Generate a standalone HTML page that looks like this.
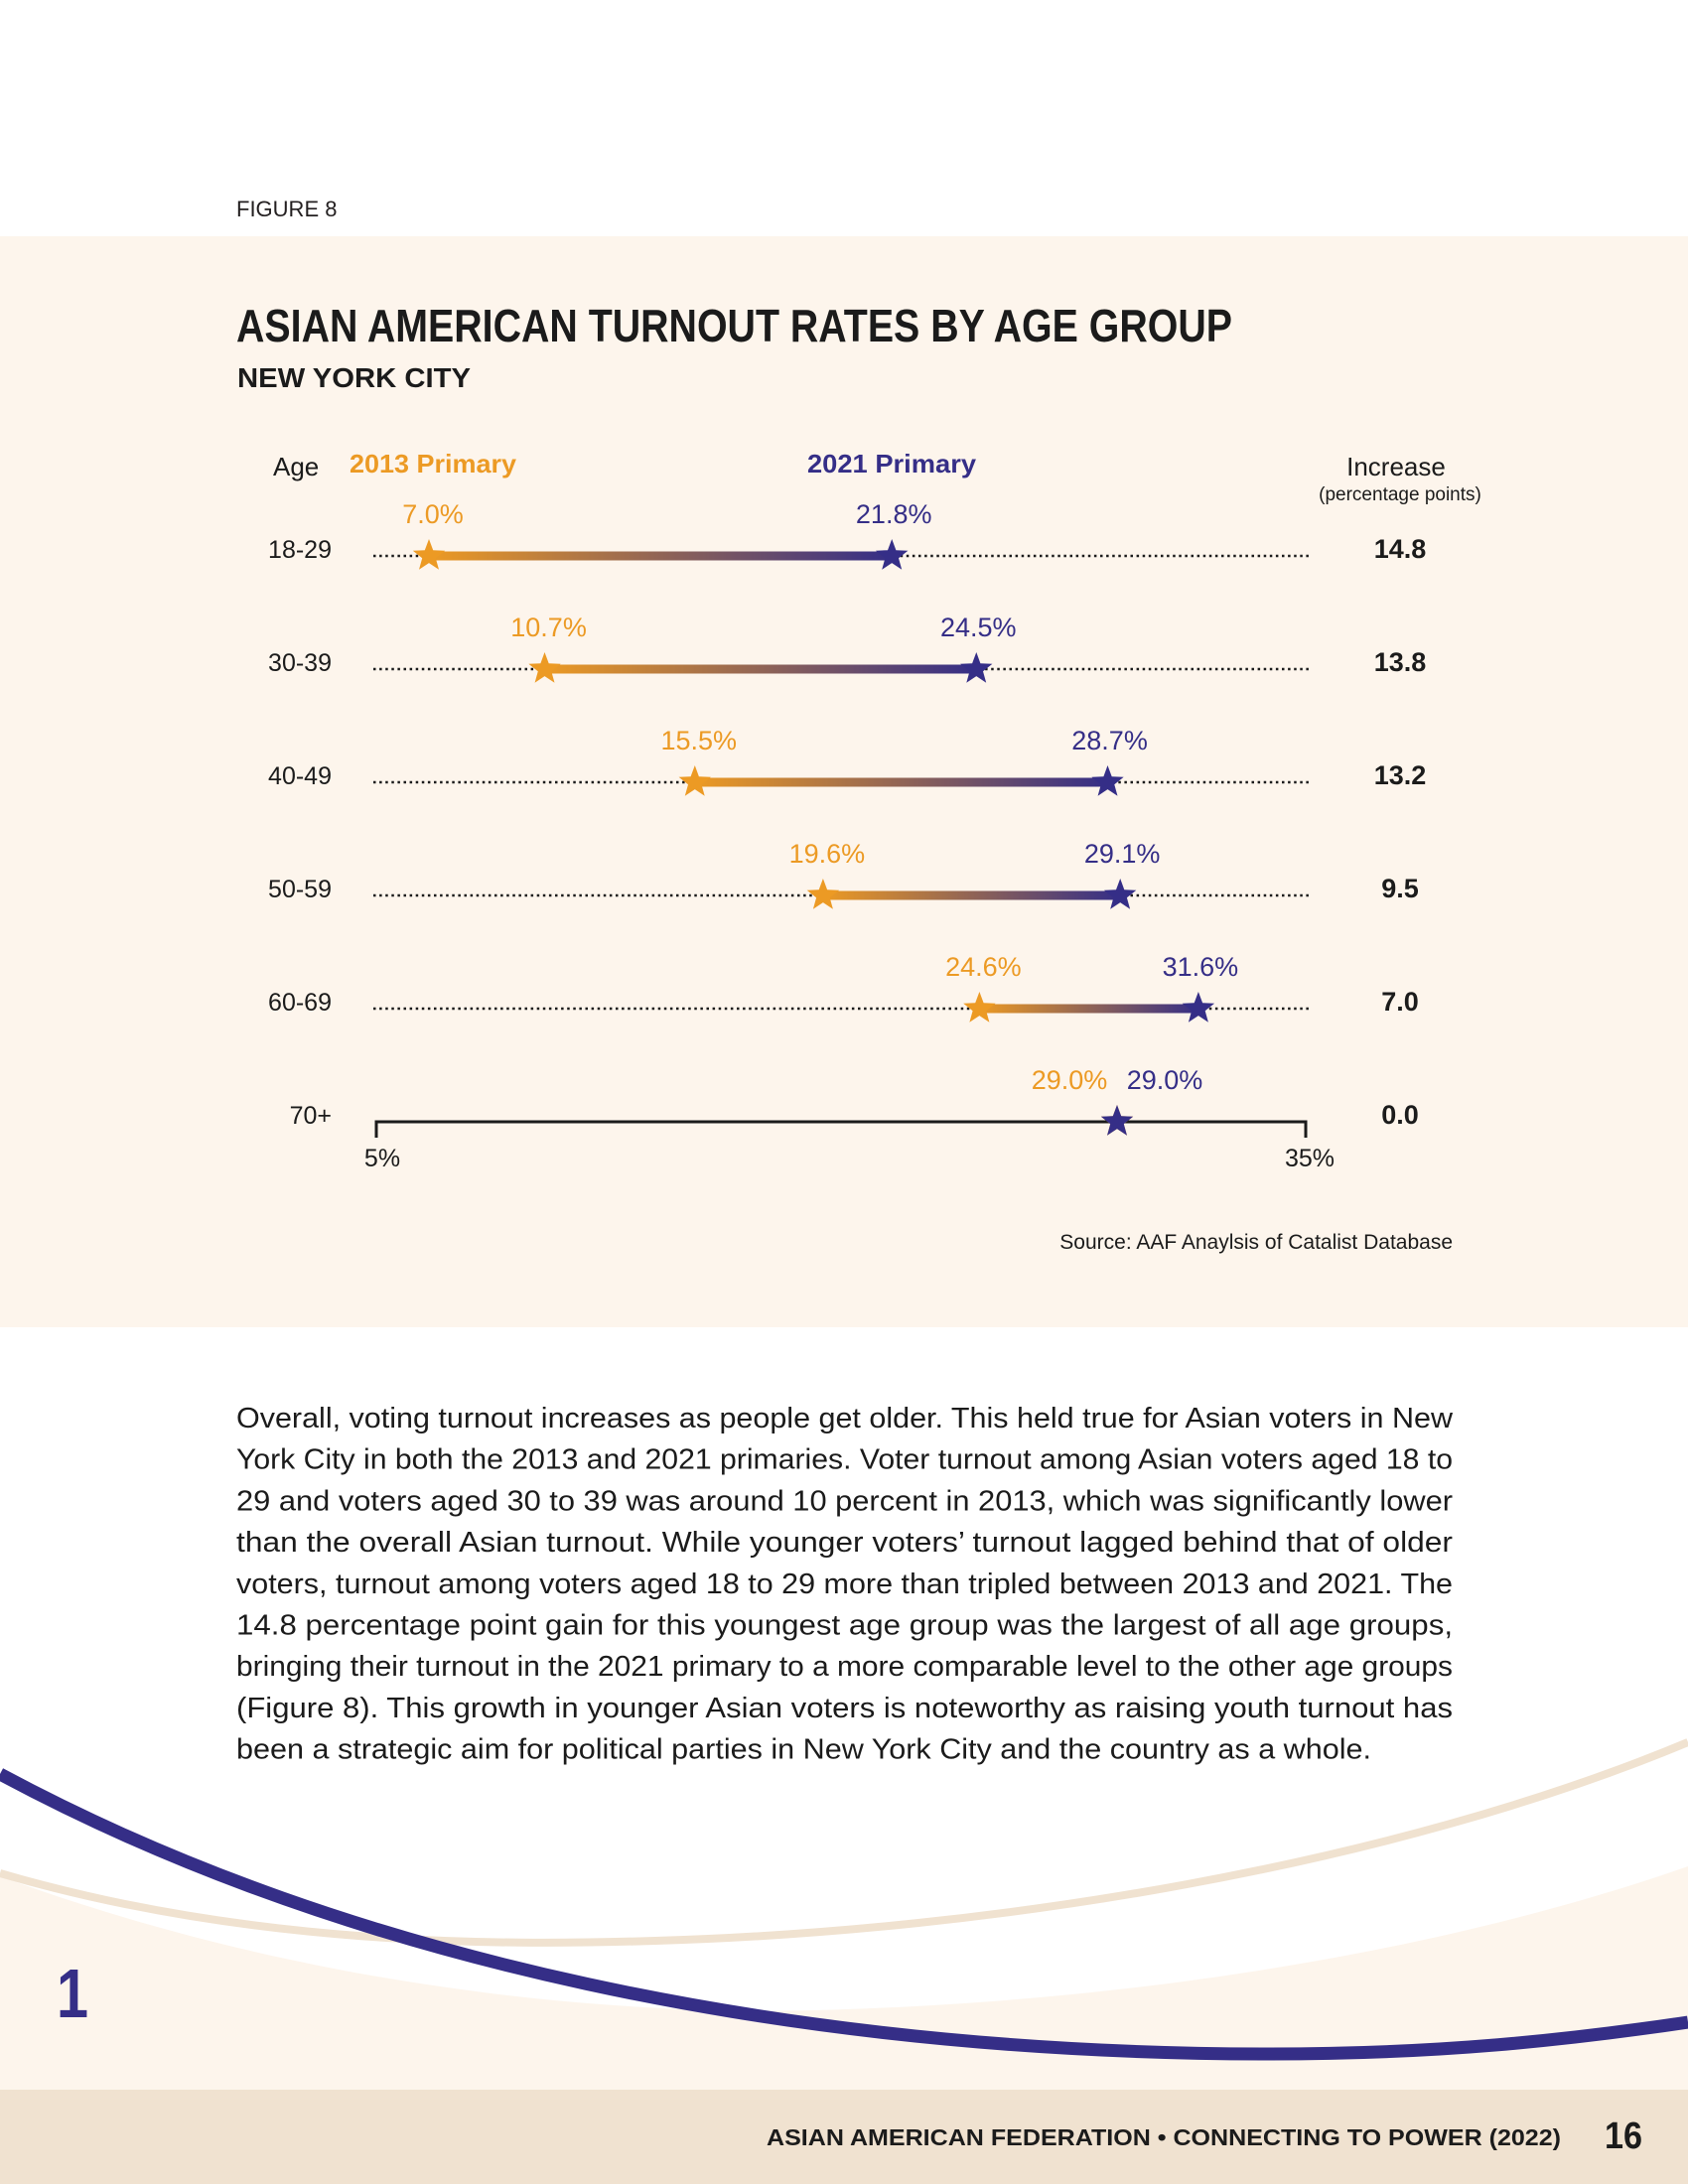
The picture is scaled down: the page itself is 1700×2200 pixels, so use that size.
<!DOCTYPE html>
<html><head><meta charset="utf-8">
<style>
html,body{margin:0;padding:0;background:#fff;}
svg{display:block;}
text{font-family:"Liberation Sans",sans-serif;}
</style></head>
<body>
<svg id="page" width="1700" height="2200" viewBox="0 0 1700 2200" xmlns="http://www.w3.org/2000/svg">
  <defs>
    <linearGradient id="connGrad" x1="0" y1="0" x2="1" y2="0">
      <stop offset="0" stop-color="#ec9a24"/>
      <stop offset="1" stop-color="#352e87"/>
    </linearGradient>
  </defs>
  <rect x="0" y="0" width="1700" height="2200" fill="#ffffff"/>
  <text x="238" y="218" font-size="22" fill="#231f20">FIGURE 8</text>
  <rect x="0" y="238" width="1700" height="1099" fill="#fdf5ec"/>
  <text x="238" y="344" font-size="46" font-weight="bold" fill="#1b1b1b" textLength="1003" lengthAdjust="spacingAndGlyphs">ASIAN AMERICAN TURNOUT RATES BY AGE GROUP</text>
  <text x="239" y="390" font-size="28" font-weight="bold" fill="#1b1b1b" textLength="235" lengthAdjust="spacingAndGlyphs">NEW YORK CITY</text>
  <text x="275" y="479" font-size="26" fill="#1b1b1b">Age</text>
  <text x="352" y="476" font-size="26" font-weight="bold" fill="#ec9a24" textLength="168" lengthAdjust="spacingAndGlyphs">2013 Primary</text>
  <text x="813" y="476" font-size="26" font-weight="bold" fill="#352e87" textLength="170" lengthAdjust="spacingAndGlyphs">2021 Primary</text>
  <text x="1406" y="479" font-size="26" fill="#1b1b1b" text-anchor="middle">Increase</text>
  <text x="1410" y="504" font-size="19" fill="#1b1b1b" text-anchor="middle">(percentage points)</text>
  <g id="chart"></g>
  <text x="1463" y="1258" font-size="21" fill="#1b1b1b" text-anchor="end">Source: AAF Anaylsis of Catalist Database</text>
  <g id="body" font-size="29" fill="#1b1b1b"></g>
  <path d="M0,1890 C300,2000 600,2030 820,2025 C1200,2015 1500,1950 1700,1880 L1700,2105 L0,2105 Z" fill="#fdf5ec"/>
  <path d="M0,1887 C250,1960 500,1960 660,1955 C1000,1945 1400,1880 1700,1755" fill="none" stroke="#f0e2d0" stroke-width="8"/>
  <path d="M0,1787 C350,1975 800,2069 1280,2069 C1450,2069 1580,2055 1700,2037" fill="none" stroke="#352e87" stroke-width="13"/>
  <text x="57" y="2032" font-size="70" font-weight="bold" fill="#352e87" textLength="32" lengthAdjust="spacingAndGlyphs">1</text>
  <rect x="0" y="2105" width="1700" height="95" fill="#f0e2d0"/>
  <text x="1572" y="2161" font-size="23" font-weight="bold" fill="#1b1b1b" text-anchor="end" textLength="800" lengthAdjust="spacingAndGlyphs">ASIAN AMERICAN FEDERATION  •  CONNECTING TO POWER (2022)</text>
  <text x="1616" y="2164" font-size="38" font-weight="bold" fill="#1b1b1b" textLength="38" lengthAdjust="spacingAndGlyphs">16</text>
</svg>
<script>
const categories = ["18-29","30-39","40-49","50-59","60-69","70+"];
const turnout2013 = [7.0,10.7,15.5,19.6,24.6,29.0];
const turnout2021 = [21.8,24.5,28.7,29.1,31.6,29.0];
const increases = ["14.8","13.8","13.2","9.5","7.0","0.0"];
const axisTicks = [5,35];

const NS = "http://www.w3.org/2000/svg";
const X0 = 369, X1 = 1314;
function xScale(v){ return X0 + (v - axisTicks[0]) / (axisTicks[1] - axisTicks[0]) * (X1 - X0); }
function yScale(i){ return 560 + i * 114; }
const chart = document.getElementById("chart");
function mk(tag, attrs, parent){
  const el = document.createElementNS(NS, tag);
  for (const k in attrs) el.setAttribute(k, attrs[k]);
  (parent || chart).appendChild(el);
  return el;
}
function starPath(cx, cy, r){
  let d = "";
  for (let k = 0; k < 10; k++){
    const a = -Math.PI/2 + k * Math.PI/5;
    const rr = k % 2 ? r * 0.42 : r;
    d += (k ? "L" : "M") + (cx + rr*Math.cos(a)).toFixed(1) + "," + (cy + rr*Math.sin(a)).toFixed(1);
  }
  return d + "Z";
}
const last = categories.length - 1;
categories.forEach((c, i) => {
  const y = yScale(i);
  const xa = xScale(turnout2013[i]), xb = xScale(turnout2021[i]);
  const lab = mk("text", {x: 334, y: y + 2, "font-size": 25, fill: "#1b1b1b", "text-anchor": "end"});
  lab.textContent = c;
  
  
  if (i === last){
    const ax = mk("path", {d: `M${X0+10},${y+16} V${y} H${X1+1} V${y+16}`, fill: "none", stroke: "#1b1b1b", "stroke-width": 3});
    
    
    axisTicks.forEach((t, k) => {
      const tl = mk("text", {x: xScale(t) + (k ? 5 : 16), y: y + 45, "font-size": 25, fill: "#1b1b1b", "text-anchor": "middle"});
      tl.textContent = t + "%";
      
      
    });
  } else {
    const dl = mk("line", {x1: 376, y1: y, x2: 1319, y2: y, stroke: "#1b1b1b", "stroke-width": 2.5, "stroke-dasharray": "2.5 3.6"});
    
    
  }
  if (xb - xa > 1){
    const g = mk("rect", {x: xa, y: y - 4.5, width: xb - xa, height: 9, fill: "url(#connGrad)"});
    
    
  }
  const sa = mk("path", {d: starPath(xa, y, 17), fill: "#ec9a24"});
  
  
  const sb = mk("path", {d: starPath(xb, y, 17), fill: "#352e87"});
  
  
  const same = Math.abs(xb - xa) < 60;
  const la = mk("text", {x: same ? xa - 48 : xa + 4, y: y - 33, "font-size": 27, fill: "#ec9a24", "text-anchor": "middle"});
  la.textContent = turnout2013[i].toFixed(1) + "%";
  
  
  const lb = mk("text", {x: same ? xb + 48 : xb + 2, y: y - 33, "font-size": 27, fill: "#352e87", "text-anchor": "middle"});
  lb.textContent = turnout2021[i].toFixed(1) + "%";
  
  
  const inc = mk("text", {x: 1410, y: y + 2, "font-size": 27, "font-weight": "bold", fill: "#1b1b1b", "text-anchor": "middle"});
  inc.textContent = increases[i];
  
  
});

const bodyLines = [
"Overall, voting turnout increases as people get older. This held true for Asian voters in New",
"York City in both the 2013 and 2021 primaries. Voter turnout among Asian voters aged 18 to",
"29 and voters aged 30 to 39 was around 10 percent in 2013, which was significantly lower",
"than the overall Asian turnout. While younger voters’ turnout lagged behind that of older",
"voters, turnout among voters aged 18 to 29 more than tripled between 2013 and 2021. The",
"14.8 percentage point gain for this youngest age group was the largest of all age groups,",
"bringing their turnout in the 2021 primary to a more comparable level to the other age groups",
"(Figure 8). This growth in younger Asian voters is noteworthy as raising youth turnout has",
"been a strategic aim for political parties in New York City and the country as a whole."
];
const body = document.getElementById("body");
bodyLines.forEach((t, i) => {
  const el = document.createElementNS(NS, "text");
  el.setAttribute("x", 238);
  el.setAttribute("y", 1438 + i * 41.7);
  el.setAttribute("textLength", i === bodyLines.length - 1 ? 1143 : 1225);
  el.setAttribute("lengthAdjust", "spacingAndGlyphs");
  el.textContent = t;
  
  
  body.appendChild(el);
});
</script>
</body></html>
